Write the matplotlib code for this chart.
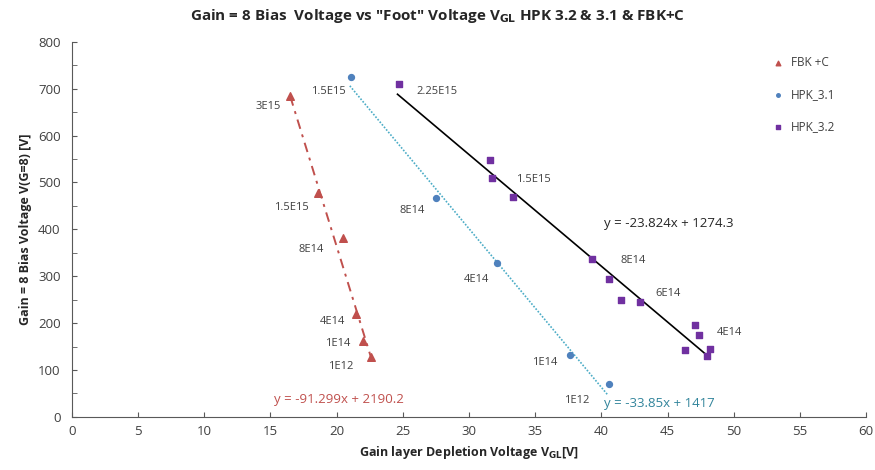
import numpy as np
import matplotlib.pyplot as plt
from matplotlib.ticker import MultipleLocator

plt.rcParams["font.family"] = ["Open Sans", "DejaVu Sans"]

# data
fbk_x = [16.5, 18.6, 20.5, 21.5, 22.0, 22.6]
fbk_y = [684, 477, 381, 220, 162, 127]
fbk_labels = ["3E15", "1.5E15", "8E14", "4E14", "1E14", "1E12"]

hpk31_x = [21.1, 27.5, 32.1, 37.6, 40.6]
hpk31_y = [726, 467, 328, 132, 70]
hpk31_labels = ["1.5E15", "8E14", "4E14", "1E14", "1E12"]

hpk32_x = [24.75, 31.55, 31.7, 33.3, 39.3, 40.6, 41.5, 42.9, 47.1, 47.4, 46.3, 48.2, 48.0]
hpk32_y = [711, 547, 509, 469, 336, 294, 249, 246, 197, 175, 143, 145, 130]
hpk32_labels = ["2.25E15", "1.5E15", "8E14", "6E14", "4E14"]

# fits shown on the chart
fbk_fit = (-91.299, 2190.2)
hpk31_fit = (-33.85, 1417)
hpk32_fit = (-23.824, 1274.3)

red = "#C0504D"
blue = "#4F81BD"
lblue = "#4BACC6"
purple = "#7030A0"
grey = "#404040"

fig = plt.figure(figsize=(8.75, 4.7), dpi=100)
ax = fig.add_axes([0.082, 0.113, 0.908, 0.798])

xx = np.array([16.5, 22.7])
ax.plot(xx, fbk_fit[0] * xx + fbk_fit[1], color=red, ls=(0, (5, 3, 1.5, 3)), lw=1.4)
xx = np.array([21.0, 40.5])
ax.plot(xx, hpk31_fit[0] * xx + hpk31_fit[1], color=lblue, ls=(0, (1, 1)), lw=1.2)
xx = np.array([24.6, 48.0])
ax.plot(xx, hpk32_fit[0] * xx + hpk32_fit[1], color="black", lw=1.2)

ax.scatter(fbk_x, fbk_y, marker="^", s=30, color=red, label="FBK +C", zorder=3)
ax.scatter(hpk31_x, hpk31_y, marker="o", s=18, color=blue, label="HPK_3.1", zorder=3)
ax.scatter(hpk32_x, hpk32_y, marker="s", s=20, color=purple, label="HPK_3.2", zorder=3)

# fluence annotations
fs = 8
for t, (x, y) in zip(fbk_labels, [(14.8, 661), (16.6, 446), (18.1, 358), (19.7, 203), (20.1, 156), (20.3, 107)]):
    ax.text(x, y, t, fontsize=fs, color=grey, ha="center", va="center")
for t, (x, y) in zip(hpk31_labels, [(19.4, 695), (25.7, 441), (30.6, 292), (35.7, 117), (38.1, 34)]):
    ax.text(x, y, t, fontsize=fs, color=grey, ha="center", va="center")
for t, (x, y) in zip(hpk32_labels, [(27.6, 695), (34.9, 507), (42.4, 333), (45.0, 264), (49.7, 181)]):
    ax.text(x, y, t, fontsize=fs, color=grey, ha="center", va="center")

ax.text(45.1, 412, "y = -23.824x + 1274.3", fontsize=9.5, color="#262626", ha="center", va="center")
ax.text(20.2, 38, "y = -91.299x + 2190.2", fontsize=9.5, color=red, ha="center", va="center")
ax.text(44.4, 28, "y = -33.85x + 1417", fontsize=9.5, color="#31849B", ha="center", va="center")

ax.set_xlim(0, 60)
ax.set_ylim(0, 800)
ax.xaxis.set_major_locator(MultipleLocator(5))
ax.yaxis.set_major_locator(MultipleLocator(100))
ax.yaxis.set_minor_locator(MultipleLocator(50))
for s in ["top", "right"]:
    ax.spines[s].set_visible(False)
for s in ["left", "bottom"]:
    ax.spines[s].set_color("#595959")
ax.tick_params(axis="x", direction="in", length=3.5, colors="#595959", labelcolor="#404040", labelsize=9.5, pad=6)
ax.tick_params(axis="y", which="both", direction="in", length=3.5, colors="#595959", labelcolor="#404040", labelsize=9.5, pad=8)

ax.set_xlabel("Gain layer Depletion Voltage V$_{\\mathbf{GL}}$[V]", fontsize=9, fontweight="bold", color="#262626")
ax.set_ylabel("Gain = 8 Bias Voltage V(G=8) [V]", fontsize=9, fontweight="bold", color="#262626")
fig.suptitle("Gain = 8 Bias  Voltage vs \"Foot\" Voltage V$_{\\mathbf{GL}}$ HPK 3.2 & 3.1 & FBK+C",
             fontsize=11, fontweight="bold", color="#262626", y=0.985)

ax.legend(loc="upper right", bbox_to_anchor=(0.975, 0.99), frameon=False, fontsize=8.5,
          labelspacing=1.6, handletextpad=0.1, markerscale=0.6, scatterpoints=1, labelcolor="#404040")

fig.savefig("out.png", dpi=100)
